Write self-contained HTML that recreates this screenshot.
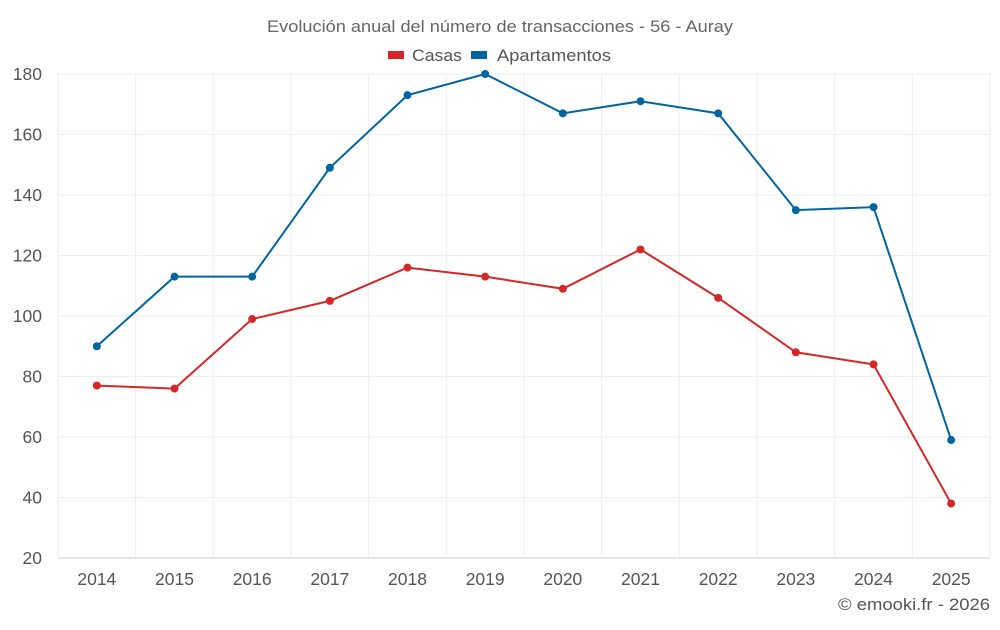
<!DOCTYPE html>
<html><head><meta charset="utf-8"><style>
body{margin:0;background:#fff;font-family:"Liberation Sans",sans-serif;}
svg text{font-family:"Liberation Sans",sans-serif;}
</style></head><body>
<svg id="chart" width="1000" height="625">
<text x="267" y="32" textLength="466" lengthAdjust="spacingAndGlyphs" font-size="17" fill="#666">Evolución anual del número de transacciones - 56 - Auray</text>
<g>
<g><rect x="388" y="51" width="16" height="8" fill="#d62728"/><text x="412" y="61" textLength="50" lengthAdjust="spacingAndGlyphs" font-size="17" fill="#555">Casas</text></g>
<g><rect x="471" y="51" width="16" height="8" fill="#0066a0"/><text x="497" y="61" textLength="114" lengthAdjust="spacingAndGlyphs" font-size="17" fill="#555">Apartamentos</text></g>
</g>
<g id="grid"></g>
<g id="axes"></g>
<g id="series"></g>
<text x="838" y="610" textLength="152" lengthAdjust="spacingAndGlyphs" font-size="17" fill="#555">© emooki.fr - 2026</text>
</svg>
<script>
const years=["2014","2015","2016","2017","2018","2019","2020","2021","2022","2023","2024","2025"];
const casas=[77,76,99,105,116,113,109,122,106,88,84,38];
const apartamentos=[90,113,113,149,173,180,167,171,167,135,136,59];
const yTicks=[20,40,60,80,100,120,140,160,180];
const NS="http://www.w3.org/2000/svg";
const L=58,R=990,T=74,B=558,yMin=20,yMax=180;
const bw=(R-L)/years.length;
const x=i=>L+bw*(i+0.5);
const y=v=>B-(v-yMin)/(yMax-yMin)*(B-T);
function mk(tag,attrs,parent){const e=document.createElementNS(NS,tag);for(const k in attrs)e.setAttribute(k,attrs[k]);parent.appendChild(e);return e;}
const grid=document.getElementById('grid'),axes=document.getElementById('axes'),ser=document.getElementById('series');
yTicks.forEach(t=>{
 const l=mk('line',{x1:L,x2:R,y1:y(t),y2:y(t),stroke:t===yMin?'#ccc':'#eee'},grid);
 
 
 const tx=mk('text',{x:42,y:y(t)+6,'text-anchor':'end','font-size':17.5,fill:'#555'},axes);
 tx.textContent=t;
 
 
});
for(let i=0;i<=years.length;i++){
 const l=mk('line',{x1:L+bw*i,x2:L+bw*i,y1:T,y2:B,stroke:'#eee'},grid);
 
 
}
years.forEach((yr,i)=>{
 const tx=mk('text',{x:x(i),y:585,'text-anchor':'middle','font-size':17.5,fill:'#555'},axes);
 tx.textContent=yr;
 
 
});
function draw(vals,color,name){
 const p=mk('polyline',{points:vals.map((v,i)=>x(i)+','+y(v)).join(' '),fill:'none',stroke:color,'stroke-width':2},ser);
 
 
 vals.forEach((v,i)=>{
  const c=mk('circle',{cx:x(i),cy:y(v),r:4,fill:color},ser);
  
  
 });
}
draw(apartamentos,'#0066a0','apartamentos');
draw(casas,'#d62728','casas');
</script>
</body></html>
